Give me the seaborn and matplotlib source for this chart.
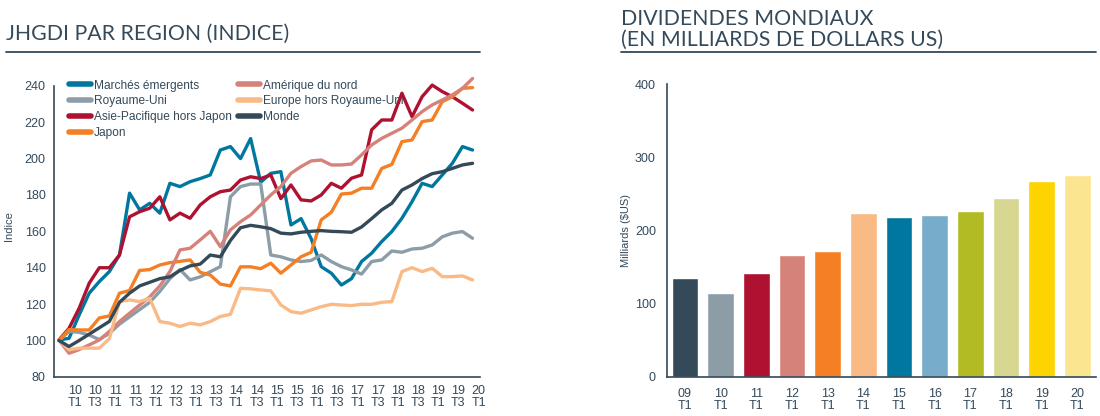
import numpy as np
import pandas as pd
import seaborn as sns
import matplotlib.pyplot as plt

# ---- JHGDI par region (indice), trimestriel ----
regions = ['Marchés émergents', 'Royaume-Uni', 'Asie-Pacifique hors Japon', 'Japon',
           'Amérique du nord', 'Europe hors Royaume-Uni', 'Monde']

marches_emergents = [100.3, 101.2, 114, 126, 132.4, 137.9, 147, 181, 171.8, 175.4, 170, 186.4, 184.6, 187.3,
                     189, 191, 204.7, 206.6, 200, 211, 187, 191.9, 192.8, 163.5, 167, 156, 140.6, 137,
                     130.5, 134, 143.4, 148, 154.4, 159.9, 167.2, 176.3, 186.4, 184.6, 191, 197.4, 206.6, 204.7]
royaume_uni = [100, 105, 104.5, 103, 100.5, 104, 109, 113, 117, 121, 127, 134, 139, 133.3,
               135, 137.8, 140.6, 179, 184.6, 186, 186, 147, 146, 144.3, 143.4, 144, 147, 143.4,
               140.6, 138.8, 136.5, 143.4, 144.3, 149.2, 148.5, 150.3, 150.7, 152.5, 157, 159, 159.9, 156.2]
asie_pacifique = [100.3, 106.7, 117.7, 131.5, 140, 140, 147, 168, 170.8, 172.7, 179, 166.3, 170, 167.2,
                  174.5, 179, 181.8, 182.7, 188.2, 190, 189, 191, 178, 185.5, 177.3, 176.7, 180, 186.4,
                  183.7, 189.2, 191, 215.8, 221.2, 221.2, 235.9, 223, 234, 240.4, 236.8, 234, 230.4, 226.7]
japon = [100, 106, 105.8, 105.8, 112.4, 113.5, 126, 127.5, 138.5, 139, 141.5, 142.8, 143.5, 144.3,
         137.5, 136, 131, 130, 140.5, 140.5, 139.5, 142.5, 137, 141.5, 146, 148.5, 166.3, 170.5,
         180.5, 181, 183.7, 183.7, 194.6, 196.8, 209.3, 210.2, 220.3, 221.2, 231.3, 234, 238.6, 239]
amerique_nord = [100.3, 93, 95, 97.6, 100.3, 105, 110.4, 115, 119.5, 124, 130, 137.9, 149.8, 150.7,
                 155.3, 160, 151.6, 160.8, 165.3, 169, 174.5, 180, 184.6, 191.9, 195.6, 198.7, 199.2, 196.5,
                 196.5, 197, 202, 207.5, 211.1, 213.9, 216.7, 221.2, 225.8, 229.5, 232.2, 235, 238.6, 244]
europe_hors_ru = [100, 94.9, 95.8, 95.8, 95.8, 101, 121.4, 122.3, 121.4, 123.2, 110.4, 109.5, 107.7, 109.5,
                  108.6, 110.4, 113.2, 114.4, 128.7, 128.4, 127.8, 127.3, 119.5, 115.9, 115, 116.8, 118.6, 119.9,
                  119.5, 119.2, 119.9, 119.9, 121, 121.4, 137.9, 140, 137.9, 139.7, 135.1, 135.1, 135.5, 133.3]
monde = [100, 96.7, 100, 103.5, 107, 110.5, 121, 126, 130, 132, 134, 135, 138.5, 141,
         142, 147, 146, 155, 162, 163.3, 162.5, 161.5, 159, 158.6, 159.5, 160, 160.4, 160,
         159.8, 159.5, 162.4, 167, 171.8, 175.4, 182.7, 185.5, 189, 191.7, 192.8, 194.6, 196.5, 197.4]

line_colors = ['#00779F', '#8C9DA8', '#AE1230', '#F47F24', '#D5837A', '#F9BA86', '#344A58']

quarter_labels = ['10\nT1', '10\nT3', '11\nT1', '11\nT3', '12\nT1', '12\nT3', '13\nT1', '13\nT3',
                  '14\nT1', '14\nT3', '15\nT1', '15\nT3', '16\nT1', '16\nT3', '17\nT1', '17\nT3',
                  '18\nT1', '18\nT3', '19\nT1', '19\nT3', '20\nT1']

# ---- Dividendes mondiaux ----
div_labels = ['09\nT1', '10\nT1', '11\nT1', '12\nT1', '13\nT1', '14\nT1',
              '15\nT1', '16\nT1', '17\nT1', '18\nT1', '19\nT1', '20\nT1']
dividendes = [135, 115, 142, 167, 172, 224, 219, 221.5, 227, 245, 267, 276]
bar_colors = ['#344A58', '#8C9DA8', '#AE1230', '#D5837A', '#F47F24', '#F9BA86',
              '#00779F', '#77ACCA', '#B2BB24', '#D7D792', '#FDD300', '#FCE590']

dark = '#34495A'

sns.set_theme(style='white')
plt.rcParams['font.family'] = ['Liberation Sans', 'DejaVu Sans']

fig = plt.figure(figsize=(11, 4.16), dpi=100)
ax1 = fig.add_axes([0.049, 0.094, 0.387, 0.726])
ax2 = fig.add_axes([0.6064, 0.094, 0.39, 0.704])

# line chart
series = [marches_emergents, royaume_uni, asie_pacifique, japon, amerique_nord, europe_hors_ru, monde]
df = pd.DataFrame({r: s for r, s in zip(regions, series)})
df['trimestre'] = np.arange(len(df))
df_long = df.melt(id_vars='trimestre', var_name='region', value_name='indice')

sns.lineplot(data=df_long, x='trimestre', y='indice', hue='region', hue_order=regions,
             palette=dict(zip(regions, line_colors)), linewidth=2.4, ax=ax1)

ax1.set_xlim(-0.5, 41.7)
ax1.set_ylim(80, 246)
ax1.set_yticks(range(80, 241, 20))
ax1.set_xticks(np.arange(len(quarter_labels)) * 2 + 1.6)
ax1.set_xticklabels(quarter_labels, linespacing=0.95)
ax1.set_xlabel('')
ax1.set_ylabel('Indice', fontsize=8, color=dark)
ax1.yaxis.set_label_coords(-40 / 426, 0.5)
ax1.tick_params(length=0, labelsize=9, colors=dark, pad=6)
for sp in ['top', 'right']:
    ax1.spines[sp].set_visible(False)
for sp in ['left', 'bottom']:
    ax1.spines[sp].set_color(dark)
    ax1.spines[sp].set_linewidth(1.2)
ax1.spines['left'].set_bounds(80, 240)

leg = ax1.legend(ncol=2, loc='upper left', bbox_to_anchor=(0.025, 1.0), frameon=False,
                 fontsize=8.6, handlelength=1.8, handletextpad=0.25, labelspacing=0.32,
                 columnspacing=0.55, borderaxespad=0)
for h in leg.get_lines():
    h.set_linewidth(4)
for t in leg.get_texts():
    t.set_color(dark)

# bar chart
sns.barplot(x=div_labels, y=dividendes, hue=div_labels, palette=bar_colors, legend=False,
            saturation=1, width=0.75, ax=ax2)
ax2.set_xlim(-0.5, 11.52)
ax2.set_ylim(0, 400)
ax2.set_yticks(range(0, 401, 100))
ax2.set_xticks(range(len(div_labels)))
ax2.set_xticklabels(div_labels, linespacing=0.95)
ax2.set_ylabel('Milliards ($US)', fontsize=8, color=dark)
ax2.yaxis.set_label_coords(-36 / 429, 0.5)
ax2.tick_params(length=0, labelsize=9, colors=dark, pad=8)
for sp in ['top', 'right']:
    ax2.spines[sp].set_visible(False)
for sp in ['left', 'bottom']:
    ax2.spines[sp].set_color(dark)
    ax2.spines[sp].set_linewidth(1.2)

# titles and rules
title_kw = dict(fontsize=15.3, family=['Lato', 'DejaVu Sans'], color=dark)
fig.text(6 / 1100, 1 - 40 / 416, 'JHGDI PAR REGION (INDICE)', va='baseline', **title_kw)
fig.text(621 / 1100, 1 - 25 / 416, 'DIVIDENDES MONDIAUX', va='baseline', **title_kw)
fig.text(621 / 1100, 1 - 46 / 416, '(EN MILLIARDS DE DOLLARS US)', va='baseline', **title_kw)
fig.add_artist(plt.Line2D([6 / 1100, 480 / 1100], [1 - 52 / 416] * 2, color=dark, lw=1.3))
fig.add_artist(plt.Line2D([621 / 1100, 1096 / 1100], [1 - 52 / 416] * 2, color=dark, lw=1.3))

fig.savefig('out.png', dpi=100)
